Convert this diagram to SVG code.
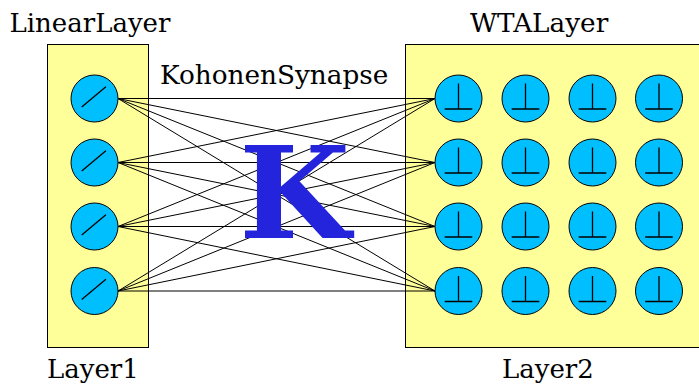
<svg xmlns="http://www.w3.org/2000/svg" width="699" height="385" viewBox="0 0 699 385">
<style>
.t{font-family:"DejaVu Serif",serif;font-size:26px;fill:#000}
.w{font-size:26.3px}
.k{font-family:"DejaVu Serif",serif;font-size:128px;font-weight:bold;fill:#2424dc}
.b{fill:#ffff99;stroke:#000;stroke-width:1}
.n{fill:#00bfff;stroke:#000;stroke-width:1}
.g{fill:none;stroke:#000;stroke-width:1.3}
.c{stroke:#000;stroke-width:1;fill:none}
</style>
<defs>
<g id="lin"><circle class="n" r="23.5"/><path class="g" d="M-12.8 8.500L11.400-11.800"/></g>
<g id="wta"><circle class="n" r="23.5"/><path class="g" d="M0-15V10M-13.800 10.500H13.800"/></g>
</defs>
<g id="layer1"><rect class="b" x="47.500" y="44.500" width="101" height="303"/></g>
<g id="layer2"><rect class="b" x="405.500" y="44.500" width="300" height="303"/></g>
<g id="connectors">
<path class="c" d="M118 98.500L435 98.500M118 98.500L435 162.500M118 98.500L435 226.500M118 98.500L435 291M118 162.500L435 98.500M118 162.500L435 162.500M118 162.500L435 226.500M118 162.500L435 291M118 226.500L435 98.500M118 226.500L435 162.500M118 226.500L435 226.500M118 226.500L435 291M118 291L435 98.500M118 291L435 162.500M118 291L435 226.500M118 291L435 291"/>
</g>
<g id="in1"><use href="#lin" x="94.500" y="98.500"/></g>
<g id="in2"><use href="#lin" x="94.500" y="162.500"/></g>
<g id="in3"><use href="#lin" x="94.500" y="226.500"/></g>
<g id="in4"><use href="#lin" x="94.500" y="291"/></g>
<g id="w11"><use href="#wta" x="458.500" y="98.500"/></g>
<g id="w12"><use href="#wta" x="525.500" y="98.500"/></g>
<g id="w13"><use href="#wta" x="592.500" y="98.500"/></g>
<g id="w14"><use href="#wta" x="659" y="98.500"/></g>
<g id="w21"><use href="#wta" x="458.500" y="162.500"/></g>
<g id="w22"><use href="#wta" x="525.500" y="162.500"/></g>
<g id="w23"><use href="#wta" x="592.500" y="162.500"/></g>
<g id="w24"><use href="#wta" x="659" y="162.500"/></g>
<g id="w31"><use href="#wta" x="458.500" y="226.500"/></g>
<g id="w32"><use href="#wta" x="525.500" y="226.500"/></g>
<g id="w33"><use href="#wta" x="592.500" y="226.500"/></g>
<g id="w34"><use href="#wta" x="659" y="226.500"/></g>
<g id="w41"><use href="#wta" x="458.500" y="291"/></g>
<g id="w42"><use href="#wta" x="525.500" y="291"/></g>
<g id="w43"><use href="#wta" x="592.500" y="291"/></g>
<g id="w44"><use href="#wta" x="659" y="291"/></g>
<text class="k" x="239" y="238">K</text>
<text class="t" x="9.500" y="32">LinearLayer</text>
<text class="t w" x="470" y="32">WTALayer</text>
<text class="t w" x="160" y="84">KohonenSynapse</text>
<text class="t" x="47" y="378">Layer1</text>
<text class="t" x="502" y="378">Layer2</text>
</svg>
